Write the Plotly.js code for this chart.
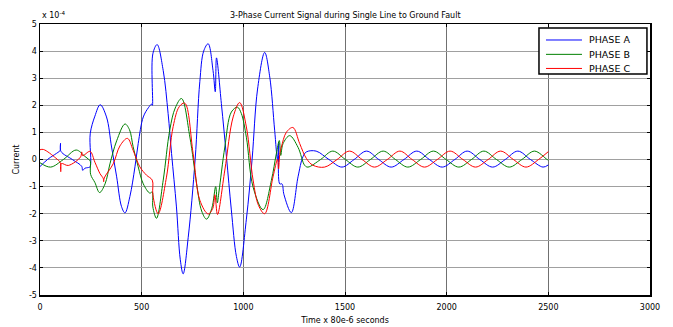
<!DOCTYPE html>
<html>
<head>
<meta charset="utf-8">
<script src="https://cdn.plot.ly/plotly-3.0.1.min.js"></script>
<style>html,body{margin:0;padding:0;background:#fff;}#chart{width:673px;height:327px;}</style>
</head>
<body>
<div id="chart"></div>
<script>
// Values are in units of 1e-4 (axis multiplier shown as "x 10^-4")
var tA = [0,37,98,100,101,103,159,205,210,221,235,246,247,270,296,327,352,377,401,418,442,467,483,508,533,550,553,555,576,606,630,647,671,690,704,729,763,786,805,827,851,862,868,892,917,941,966,982,1015,1043,1070,1105,1130,1154,1168,1174,1179,1190,1200,1236,1269,1293,1310,1358,1421,1485,1545,1606,1666,1727,1790,1853,1915,1978,2040,2101,2163,2226,2288,2350,2412,2474,2500];
var phaseA = [-0.26,0,0.32,0.35,0.6,0.3,0,-0.25,-0.4,-0.32,-0.3,-0.27,0.95,1.6,2.02,1.57,0.46,-0.64,-1.74,-1.97,-1.37,-0.27,0.59,1.57,1.91,2.05,2.0,3.9,4.24,3.28,1.7,0.22,-1.75,-3.7,-4.22,-2.87,0,2.87,4.0,4.27,3.28,2.5,3.75,2.06,0.1,-1.86,-3.58,-3.97,-2.2,0,2.6,3.95,3.04,1.08,0,0.6,-0.9,-0.9,-1.3,-1.96,-0.64,0.1,0.28,0.31,0,-0.28,0,0.31,0,-0.28,0,0.31,0,-0.28,0,0.31,0,-0.28,0,0.31,0,-0.28,-0.2];

var tB = [0,52,115,178,220,240,247,249,270,293,320,344,377,418,440,458,483,508,540,552,555,573,606,638,665,696,737,770,795,819,845,864,872,880,909,941,971,990,1015,1048,1097,1138,1162,1177,1184,1195,1228,1269,1302,1318,1380,1440,1502,1563,1625,1688,1748,1809,1872,1935,1997,2060,2122,2183,2245,2308,2370,2432,2494,2500];
var phaseB = [-0.12,-0.28,0,0.35,0.12,0,-0.05,-0.55,-0.85,-1.22,-0.9,-0.16,0.69,1.31,1.1,0.47,-0.27,-0.9,-1.24,-1.2,-1.75,-2.17,-0.76,1.08,1.9,2.25,0.83,-0.88,-1.9,-2.2,-1.8,-1.0,-1.6,-1.2,0.46,1.75,1.93,1.7,0.82,-1.02,-1.85,-0.77,0.2,0.7,0.15,0.58,0.88,0.45,-0.22,-0.28,0,0.31,0,-0.28,0,0.31,0,-0.28,0,0.31,0,-0.28,0,0.31,0,-0.28,0,0.31,0,-0.02];

var tC = [0,17,78,100,102,105,139,200,205,210,246,270,295,311,313,316,360,393,430,458,491,524,552,555,581,622,655,685,712,753,786,827,850,860,873,909,950,982,1015,1048,1075,1105,1146,1168,1173,1180,1187,1212,1244,1277,1310,1342,1400,1461,1522,1584,1645,1708,1770,1830,1891,1954,2017,2080,2142,2204,2265,2328,2390,2452,2500];
var phaseC = [0.36,0.37,0.05,-0.12,-0.45,-0.15,-0.22,0.1,0.28,0.14,0.3,-0.1,-0.52,-0.7,-0.82,-0.68,-0.16,0.5,0.78,0.34,-0.27,-0.58,-0.76,-1.3,-2.0,-0.65,1.22,1.95,2.08,0.22,-1.5,-2.01,-1.8,-1.3,-2.03,-0.39,1.57,2.1,1.2,-0.76,-1.7,-2.0,-0.64,0,-0.35,0.25,0.46,1.01,1.18,0.59,0.04,-0.21,-0.28,0,0.31,0,-0.28,0,0.31,0,-0.28,0,0.31,0,-0.28,0,0.31,0,-0.28,0,0.29];

var seriesNames = ['PHASE A','PHASE B','PHASE C'];
var seriesColors = ['#0000ff','#008000','#ff0000'];
var xTicks = [0,500,1000,1500,2000,2500,3000];
var yTicks = [-5,-4,-3,-2,-1,0,1,2,3,4,5];

var FONT = 'DejaVu Sans, Arial, sans-serif';
var xs = [tA,tB,tC], ys = [phaseA,phaseB,phaseC];
var traces = xs.map(function(x,i){
  return {x:x, y:ys[i], type:'scatter', mode:'lines', name:seriesNames[i], showlegend:false,
    line:{color:seriesColors[i], width:1, shape:'spline', smoothing:1}};
});

// Legend box drawn in paper coordinates (MATLAB-style compact legend)
var legX0 = 0.818, legX1 = 0.995, legY0 = 0.8155, legY1 = 0.985;
var legRows = [0.941, 0.888, 0.836];
var shapes = [{type:'rect', xref:'paper', yref:'paper', x0:legX0, x1:legX1, y0:legY0, y1:legY1,
  line:{color:'#000', width:1.5}, fillcolor:'#fff', layer:'above'}];
var annotations = [{xref:'paper', yref:'paper', x:0, y:1, xanchor:'left', yanchor:'bottom', yshift:2, showarrow:false,
    text:'x 10<sup>-4</sup>', font:{family:FONT,size:8}}];
seriesNames.forEach(function(n,i){
  shapes.push({type:'line', xref:'paper', yref:'paper', x0:0.8295, x1:0.8885, y0:legRows[i], y1:legRows[i],
    line:{color:seriesColors[i], width:1}, layer:'above'});
  annotations.push({xref:'paper', yref:'paper', x:0.8967, y:legRows[i], xanchor:'left', yanchor:'middle',
    showarrow:false, text:n, font:{family:FONT,size:9.5,color:'#000'}});
});

var layout = {
  width:673, height:327,
  margin:{l:40, r:23, t:24, b:32},
  paper_bgcolor:'#ffffff', plot_bgcolor:'#ffffff',
  font:{family:FONT, size:8, color:'#000'},
  showlegend:false,
  title:{text:'3-Phase Current Signal during Single Line to Ground Fault', font:{family:FONT,size:8,color:'#000'}, x:0.513, xanchor:'center', y:0.955, yanchor:'middle'},
  xaxis:{range:[0,3000], tickvals:xTicks, ticktext:xTicks.map(String), showgrid:true, gridcolor:'#707070', gridwidth:1,
    zeroline:false, showline:true, linecolor:'#000', linewidth:1.5, mirror:'ticks', ticks:'inside', ticklen:3, tickcolor:'#000',
    ticklabelstandoff:4, tickfont:{family:FONT,size:8}, title:{text:'Time x 80e-6 seconds', font:{family:FONT,size:8}, standoff:6}},
  yaxis:{range:[-5,5], tickvals:yTicks, ticktext:yTicks.map(String), showgrid:true, gridcolor:'#a0a0a0', gridwidth:1,
    zeroline:false, showline:true, linecolor:'#000', linewidth:1.5, mirror:'ticks', ticks:'inside', ticklen:3, tickcolor:'#000',
    tickfont:{family:FONT,size:8}, title:{text:'Current', font:{family:FONT,size:8}, standoff:8}},
  shapes:shapes,
  annotations:annotations
};
Plotly.newPlot('chart', traces, layout, {displayModeBar:false, staticPlot:true});
</script>
</body>
</html>
